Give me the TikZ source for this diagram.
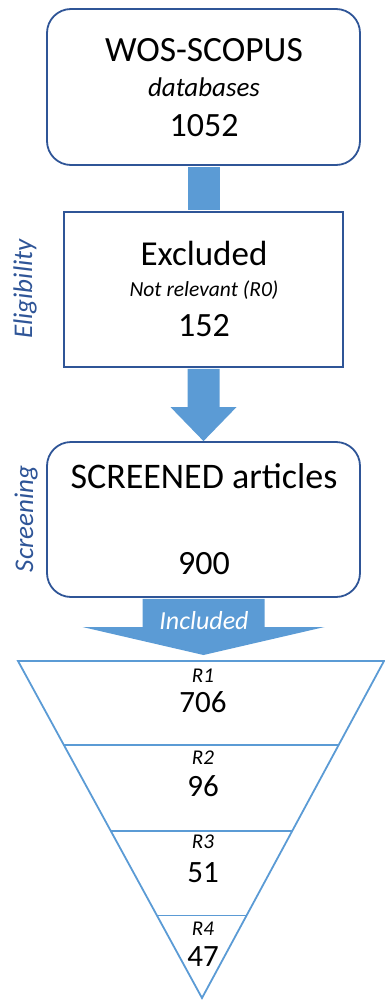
\documentclass[tikz,border=0pt]{standalone}
\usepackage{fontspec}
\setmainfont{Carlito}
\usetikzlibrary{calc}
\definecolor{boxblue}{RGB}{47,85,151}
\definecolor{flowblue}{RGB}{91,155,213}

\begin{document}
\begin{tikzpicture}[x=1pt, y=-1pt,
	stage/.style={draw=boxblue, line width=1.8pt, fill=white, inner sep=0pt},
	label/.style={inner sep=0pt, anchor=base},
	phase/.style={inner sep=0pt, anchor=base, rotate=90, text=boxblue, font=\itshape\fontsize{27}{30}\selectfont},
	funnel/.style={draw=flowblue, line width=1.8pt}]

	\useasboundingbox (0,0) rectangle (385,1000);

	% The three stages of the selection
	\node[stage, rounded corners=24pt, minimum width=313pt, minimum height=156pt] (wos) at (203.5,87) {};
	\node[stage, minimum width=279pt, minimum height=155pt] (excl) at (203.5,289.5) {};
	\node[stage, rounded corners=24pt, minimum width=313pt, minimum height=155pt] (scr) at (203.5,519.5) {};

	% Texts of the stages
	\node[label, font=\fontsize{35.5}{40}\selectfont] (wostitle) at (204,62) {WOS-SCOPUS};
	\node[label, font=\itshape\fontsize{27}{30}\selectfont] (wosdb) at (204,97) {databases};
	\node[label, font=\fontsize{34}{40}\selectfont] (wosnum) at (204,137) {1052};
	\node[label, font=\fontsize{35}{40}\selectfont] (excltitle) at (204,265) {Excluded};
	\node[label, font=\itshape\fontsize{21.5}{24}\selectfont] (excltext) at (204,296) {Not relevant (R0)};
	\node[label, font=\fontsize{34}{40}\selectfont] (exclnum) at (204,336) {152};
	\node[label, font=\fontsize{36}{40}\selectfont] (scrtitle) at (204,488) {SCREENED articles};
	\node[label, font=\fontsize{34}{40}\selectfont] (scrnum) at (204,574) {900};

	% Phases written along the left side
	\node[phase] (elig) at (32,289) {Eligibility};
	\node[phase] (screen) at (33,519) {Screening};

	% Block arrows between the stages
	\fill[flowblue] ($(wos.south)+(-16,0.9)$) rectangle ($(excl.north)+(16,-0.9)$);
	\fill[flowblue] ($(excl.south)+(-16,0.9)$) |- ($(scr.north)+(-33,-34)$) -- (scr.north)
		-- ($(scr.north)+(33,-34)$) -| ($(excl.south)+(16,0.9)$) -- cycle;

	% Wide arrow into the funnel
	\coordinate (inctip) at (203.5,655);
	\fill[flowblue] ($(scr.south)+(-61,0.9)$) |- ($(inctip)+(-121,-28)$) -- (inctip)
		-- ($(inctip)+(121,-28)$) -| ($(scr.south)+(61,0.9)$) -- cycle;
	\node[label, text=white, font=\itshape\fontsize{26}{30}\selectfont] (inc) at (204,629) {Included};

	% Funnel of the included articles
	\coordinate (fl) at (18,661);
	\coordinate (fr) at (384,661);
	\coordinate (fapex) at (202,998);
	\draw[funnel] (fl) -- (fr) -- (fapex) -- cycle;
	\foreach \t in {0.25,0.505,0.755}
		\draw[funnel] ($(fl)!\t!(fapex)$) -- ($(fr)!\t!(fapex)$);

	\foreach \r/\n/\ya/\yb in {1/706/682/712, 2/96/764/796, 3/51/848/882, 4/47/935/966} {
		\node[label, font=\itshape\fontsize{21}{24}\selectfont] (r\r) at (203,\ya) {R\r};
		\node[label, font=\fontsize{31}{34}\selectfont] (n\r) at (203,\yb) {\n};
	}
\end{tikzpicture}
\end{document}
